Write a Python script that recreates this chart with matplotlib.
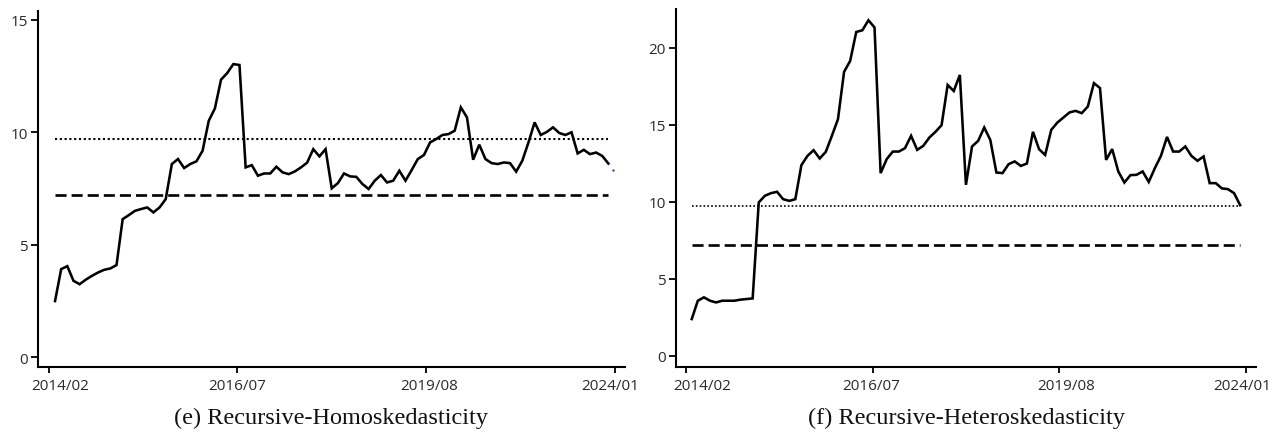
import numpy as np
import matplotlib
matplotlib.use("Agg")
import matplotlib.pyplot as plt
import matplotlib.transforms as mtransforms

# ---------------- data ----------------
homo_values = [
    2.49, 3.91, 4.04, 3.39, 3.24, 3.44, 3.61, 3.76, 3.88, 3.94,
    4.09, 6.13, 6.31, 6.50, 6.58, 6.65, 6.43, 6.65, 7.02, 8.58,
    8.80, 8.40, 8.58, 8.70, 9.17, 10.50, 11.05, 12.33, 12.62, 13.02,
    12.98, 8.43, 8.53, 8.06, 8.16, 8.16, 8.46, 8.21, 8.13, 8.25,
    8.43, 8.64, 9.24, 8.92, 9.24, 7.50, 7.73, 8.16, 8.03, 8.01,
    7.69, 7.47, 7.84, 8.09, 7.76, 7.84, 8.28, 7.84, 8.31, 8.80,
    8.98, 9.54, 9.69, 9.87, 9.91, 10.06, 11.10, 10.65, 8.77, 9.44,
    8.80, 8.62, 8.58, 8.65, 8.62, 8.24, 8.73, 9.54, 10.43, 9.87,
    10.01, 10.21, 9.96, 9.87, 9.99, 9.05, 9.21, 9.02, 9.09, 8.94,
    8.60,
]

hetero_values = [
    2.38, 3.57, 3.79, 3.57, 3.46, 3.57, 3.57, 3.57, 3.64, 3.68,
    3.72, 9.95, 10.38, 10.55, 10.64, 10.16, 10.05, 10.16, 12.37, 12.97,
    13.34, 12.80, 13.23, 14.27, 15.35, 18.42, 19.13, 21.01, 21.12, 21.77,
    21.30, 11.85, 12.76, 13.25, 13.25, 13.47, 14.27, 13.36, 13.62, 14.16,
    14.53, 14.96, 17.57, 17.18, 18.22, 11.09, 13.58, 13.94, 14.81, 14.00,
    11.89, 11.85, 12.43, 12.61, 12.32, 12.47, 14.53, 13.40, 13.03, 14.66,
    15.13, 15.46, 15.79, 15.89, 15.74, 16.17, 17.69, 17.37, 12.71, 13.41,
    11.96, 11.24, 11.72, 11.74, 11.96, 11.28, 12.17, 12.97, 14.20, 13.25,
    13.25, 13.58, 12.97, 12.65, 12.93, 11.20, 11.20, 10.86, 10.81, 10.55,
    9.77,
]

dotted_level = 9.7
dashed_level = 7.2

# stray blue dot in the left panel (index position, value)
stray_index = [90.7]
stray_value = [8.3]

tick_labels = ["2014/02", "2016/07", "2019/08", "2024/01"]
captions = ["(e) Recursive-Homoskedasticity", "(f) Recursive-Heteroskedasticity"]

# ---------------- figure ----------------
W, H = 1276, 435
fig = plt.figure(figsize=(W / 100, H / 100), dpi=100)

tick_font = "Open Sans"
tick_color = "#2a2a2a"


def setup(ax, values, yticks, ylim, xlim, caption, label_shift_px, thin_dot=False):
    x = np.arange(len(values))
    ax.plot(x, values, color="black", lw=1.85, solid_joinstyle="miter", zorder=3)
    dot_lw = 1.2 if thin_dot else 1.5
    ax.plot([x[0], x[-1]], [dotted_level, dotted_level], color="black",
            lw=dot_lw, linestyle=(0, (1, 1.3)), zorder=2)
    ax.plot([x[0], x[-1]], [dashed_level, dashed_level], color="black",
            lw=1.9, linestyle=(0, (4.2, 1.9)), zorder=2)

    n = len(values)
    ax.set_xticks(np.linspace(-1, n, 4))
    ax.set_xticklabels(tick_labels)
    ax.set_yticks(yticks)
    ax.set_ylim(*ylim)
    ax.set_xlim(*xlim)

    for s in ("top", "right"):
        ax.spines[s].set_visible(False)
    for s in ("left", "bottom"):
        ax.spines[s].set_linewidth(1.5)
        ax.spines[s].set_color("black")
    ax.tick_params(axis="both", direction="out", width=1.3,
                   colors="black", labelcolor=tick_color)
    ax.tick_params(axis="x", length=4.5, pad=3.2)
    ax.tick_params(axis="y", length=5.0, pad=2.2)
    for lab in ax.get_xticklabels() + ax.get_yticklabels():
        lab.set_fontfamily(tick_font)
        lab.set_fontsize(11)
    for lab, dx in zip(ax.get_xticklabels(), label_shift_px):
        lab.set_transform(lab.get_transform() +
                          mtransforms.ScaledTranslation(dx / 100, 0, fig.dpi_scale_trans))

    pos = ax.get_position()
    fig.text((pos.x0 + pos.x1) / 2, 1 - 418 / H, caption,
             ha="center", va="center", fontsize=17.5,
             family="Liberation Serif", color="#111111")


ax1 = fig.add_axes([38 / W, 1 - 368 / H, (625 - 38) / W, (368 - 12) / H])
setup(ax1, homo_values, [0, 5, 10, 15], (-0.44, 15.38), (-2.77, 92.7), captions[0],
      [11, 0, 3, -4])
ax1.scatter(stray_index, stray_value, s=3, color="#3b3bd0", zorder=4, linewidths=0)

ax2 = fig.add_axes([676 / W, 1 - 368 / H, (1256 - 676) / W, (368 - 10) / H])
setup(ax2, hetero_values, [0, 5, 10, 15, 20], (-0.73, 22.5), (-2.58, 92.6), captions[1],
      [17, -1, 7, -4], thin_dot=True)

fig.savefig("out.png", dpi=100, facecolor="white")
